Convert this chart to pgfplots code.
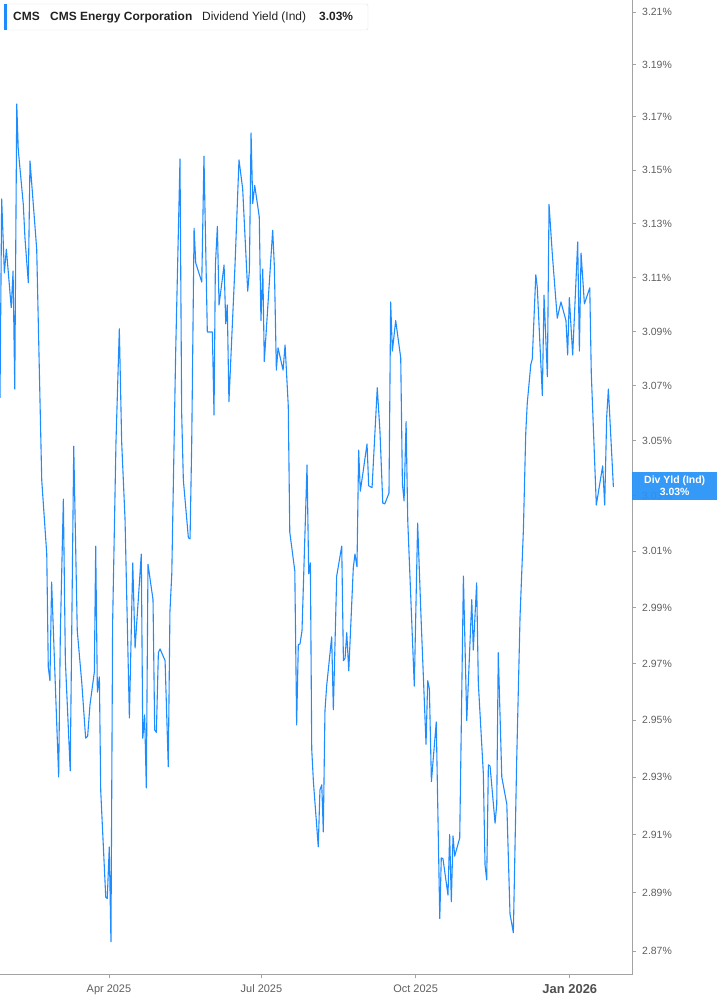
\documentclass[border=0pt]{standalone}
\usepackage{pgfplots}
\pgfplotsset{compat=1.18}
\usepackage{fontspec}
\setmainfont{Liberation Sans}
\definecolor{cmsblue}{HTML}{1E8CFF}
\definecolor{tagblue}{HTML}{2A93F7}
\definecolor{axisgray}{HTML}{A3A3A3}
\definecolor{labelgray}{HTML}{5E5E5E}
\definecolor{headtext}{HTML}{222222}

\begin{document}
\begin{tikzpicture}
\path[use as bounding box] (0,0) rectangle (717bp,1005bp);
\begin{axis}[
  at={(0,30bp)}, anchor=south west,
  scale only axis, width=632bp, height=975bp,
  xmin=25, xmax=402.1,
  ymode=log, ymin=2.8618, ymax=3.2146,
  axis x line*=bottom, axis y line*=right,
  axis line style={axisgray, line width=1bp},
  tick align=outside, major tick length=4bp,
  tick style={axisgray, line width=0.8bp},
  yminorticks=false, xminorticks=false,
  xtick={90,181,273,365},
  xticklabels={Apr 2025, Jul 2025, Oct 2025,
    {\fontsize{13}{15}\selectfont\bfseries\color{labelgray!85!black}Jan 2026}},
  xticklabel style={font=\fontsize{11}{13}\selectfont, text=labelgray, inner sep=0pt, yshift=-6bp},
  ytick={2.87,2.89,2.91,2.93,2.95,2.97,2.99,3.01,3.03,3.05,3.07,3.09,3.11,3.13,3.15,3.17,3.19,3.21},
  yticklabels={2.87\%,2.89\%,2.91\%,2.93\%,2.95\%,2.97\%,2.99\%,3.01\%,3.03\%,3.05\%,3.07\%,3.09\%,3.11\%,3.13\%,3.15\%,3.17\%,3.19\%,3.21\%},
  yticklabel style={font=\fontsize{10.5}{12}\selectfont, text=labelgray, inner sep=0pt, xshift=6bp},
  clip=false,
]
\addplot[cmsblue, line width=1.1bp, line join=round] coordinates {
(25.0,3.0656)(26.0,3.1392)(27.6,3.1116)(28.8,3.1206)(31.7,3.0987)(32.8,3.1124)(33.8,3.0689)(35.0,3.1750)(35.9,3.1576)(38.9,3.1370)(39.9,3.1246)(41.9,3.1080)(42.9,3.1535)(46.9,3.1206)(49.9,3.0358)(52.9,3.0091)(53.8,2.9688)(54.8,2.9639)(55.8,2.9991)(60.0,2.9302)(61.0,2.9806)(62.8,3.0289)(64.0,2.9710)(66.9,2.9323)(69.0,3.0481)(71.1,2.9816)(73.8,2.9632)(76.1,2.9438)(77.3,2.9445)(78.7,2.9554)(81.3,2.9671)(82.1,3.0120)(83.1,2.9600)(84.3,2.9653)(85.1,2.9253)(88.1,2.8885)(89.0,2.8879)(90.2,2.9058)(91.2,2.8731)(92.2,2.9845)(94.2,3.0496)(96.2,3.0909)(97.6,3.0496)(99.6,3.0217)(102.2,2.9509)(104.2,3.0059)(105.6,2.9756)(109.3,3.0091)(110.2,2.9438)(111.3,2.9519)(112.3,2.9263)(113.3,3.0055)(116.3,2.9927)(117.3,2.9466)(118.3,2.9459)
(119.5,2.9738)(120.5,2.9752)(123.5,2.9710)(125.4,2.9337)(126.4,2.9884)(127.5,3.0020)(129.8,3.0817)(132.4,3.1542)(133.4,3.0598)(134.4,3.0358)(137.4,3.0149)(138.4,3.0145)(139.4,3.0496)(140.8,3.1284)(141.8,3.1153)(145.4,3.1083)(146.7,3.1554)(148.7,3.0898)(151.7,3.0898)(152.7,3.0594)(153.5,3.1142)(154.7,3.1291)(155.7,3.0998)(158.7,3.1146)(159.7,3.0928)(160.6,3.0998)(161.6,3.0641)(163.3,3.0880)(165.2,3.1142)(167.6,3.1539)(169.8,3.1430)(172.8,3.1050)(173.8,3.1124)(174.8,3.1640)(175.8,3.1374)(177.0,3.1441)(179.7,3.1325)(180.7,3.0939)(181.8,3.1131)(182.7,3.0788)(187.7,3.1276)(188.7,3.1142)(189.9,3.0759)(190.9,3.0840)(193.9,3.0759)(195.1,3.0851)(197.0,3.0627)(197.9,3.0170)(200.9,3.0030)(202.0,2.9484)(203.0,2.9767)(204.0,2.9770)(205.2,2.9816)(208.2,3.0412)(209.2,3.0020)(210.2,3.0059)
(211.0,2.9399)(212.0,2.9284)(214.9,2.9058)(215.9,2.9256)(217.0,2.9274)(217.9,2.9110)(218.9,2.9533)(219.9,2.9621)(222.9,2.9795)(223.9,2.9537)(225.9,3.0012)(228.9,3.0120)(229.9,2.9710)(230.9,2.9720)(231.9,2.9809)(233.1,2.9674)(235.8,3.0041)(236.8,3.0091)(238.0,3.0045)(239.0,3.0467)(240.0,3.0318)(244.0,3.0489)(245.0,3.0336)(247.0,3.0329)(250.1,3.0693)(251.7,3.0536)(253.4,3.0275)(254.6,3.0271)(257.1,3.0311)(258.1,3.1009)(259.1,3.0829)(261.1,3.0939)(264.1,3.0803)(265.1,3.0344)(266.1,3.0282)(267.3,3.0568)(268.3,3.0210)(272.2,2.9621)(274.2,3.0203)(276.2,2.9866)(279.2,2.9417)(280.2,2.9639)(281.2,2.9611)(282.4,2.9284)(285.3,2.9494)(287.4,2.8810)(288.3,2.9020)(289.3,2.9017)(292.3,2.8892)(293.3,2.9100)(294.3,2.8868)(295.3,2.9096)(296.3,2.9027)(299.3,2.9089)(301.5,3.0012)(303.5,2.9498)
(306.5,2.9927)(307.4,2.9749)(309.4,2.9987)(310.4,2.9632)(313.4,2.9312)(314.4,2.8996)(315.4,2.8944)(316.4,2.9344)(317.4,2.9340)(320.4,2.9141)(321.4,2.9207)(322.3,2.9738)(324.4,2.9302)(327.4,2.9207)(329.3,2.8827)(331.3,2.8762)(333.3,2.9361)(335.3,2.9866)(337.3,3.0178)(338.7,3.0528)(339.6,3.0638)(341.7,3.0777)(342.6,3.0799)(344.7,3.1109)(345.6,3.1061)(348.6,3.0664)(349.6,3.1035)(351.6,3.0733)(352.6,3.1370)(354.6,3.1183)(357.5,3.0950)(359.7,3.1009)(362.7,3.0939)(363.7,3.0814)(364.7,3.1024)(366.7,3.0814)(369.7,3.1232)(370.7,3.0829)(371.7,3.1191)(373.7,3.1002)(376.9,3.1061)(377.8,3.0748)(380.8,3.0267)(384.6,3.0409)(385.8,3.0267)(387.0,3.0587)(388.0,3.0689)(391.0,3.0333)
};
\coordinate (lastpt) at (axis cs:402.1,3.0336);
\end{axis}
% value tag on the right axis
\node[anchor=west, fill=tagblue, fill opacity=0.95, text opacity=1, text=white,
  minimum width=85bp, minimum height=28bp, inner sep=0pt, align=center,
  font=\fontsize{10.5}{11.5}\selectfont\bfseries] at (lastpt) {Div Yld (Ind)\\3.03\%};
% header box
\draw[gray!25, fill=white, rounded corners=2bp] (4bp,975bp) rectangle (368bp,1001bp);
\fill[cmsblue] (4bp,975bp) rectangle (7bp,1001bp);
\begin{scope}[every node/.style={anchor=base west, inner sep=0pt, text=headtext, font=\fontsize{12}{14}\selectfont}]
\node at (13bp,984bp) {\bfseries CMS};
\node at (50bp,984bp) {\bfseries CMS Energy Corporation};
\node at (202bp,984bp) {Dividend Yield (Ind)};
\node at (319bp,984bp) {\bfseries 3.03\%};
\end{scope}
\end{tikzpicture}
\end{document}
